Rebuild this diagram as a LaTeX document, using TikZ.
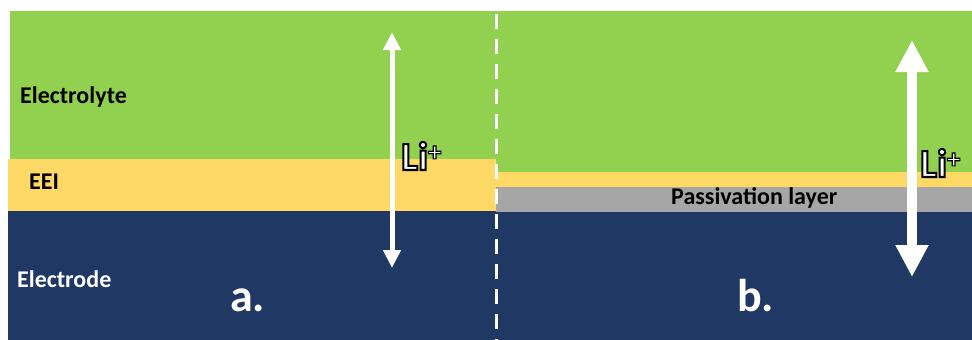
\documentclass[tikz,border=0pt]{standalone}
\usepackage{fontspec}
\setmainfont{Carlito}
\usetikzlibrary{arrows.meta}
\definecolor{lyte}{HTML}{92D050}
\definecolor{eeicol}{HTML}{FFD966}
\definecolor{trode}{HTML}{203864}
\definecolor{passcol}{HTML}{A6A6A6}
\newcommand{\litext}{\special{pdf:code 2 Tr 2 w 0 G}Li\raisebox{9pt}{\fontsize{27}{27}\selectfont\special{pdf:code 2 Tr 1.1 w 0 G}+}\special{pdf:code 0 Tr 1 G}}
\begin{document}
\begin{tikzpicture}[x=1pt,y=-1pt,
  lbl/.style={inner sep=0pt, anchor=base west, font=\fontsize{24}{24}\selectfont\bfseries},
  biglbl/.style={inner sep=0pt, anchor=base west, text=white, font=\fontsize{46}{46}\selectfont\bfseries},
  lifront/.style={inner sep=0pt, anchor=base west, text=white, font=\fontsize{40}{40}\selectfont\bfseries},
  ionarrow/.style={white, line width=#1}]
\useasboundingbox (0,0) rectangle (972,340);
\fill[white] (0,0) rectangle (972,340);
% layers
\fill[trode] (8,211) rectangle (972,340);
\fill[lyte] (10,11) rectangle (496,159);
\fill[eeicol] (8,159) rectangle (496,211);
\fill[lyte] (496,11) rectangle (972,172);
\fill[eeicol] (496,172) rectangle (972,187);
\fill[passcol] (496,187) rectangle (972,212);
% divider
\coordinate (dtop) at (496.5,14);
\coordinate (dbot) at (496.5,340);
\draw[white, line width=3pt, dash pattern=on 15pt off 10pt] (dtop) -- (dbot);
% arrows
\coordinate (a1) at (392,32);
\coordinate (a2) at (392,268);
\draw[ionarrow=5pt, {Triangle[width=17pt,length=18pt]}-{Triangle[width=17pt,length=18pt]}] (a1) -- (a2);
\coordinate (b1) at (912,40);
\coordinate (b2) at (912,277);
\draw[ionarrow=10pt, {Triangle[width=31pt,length=32pt]}-{Triangle[width=31pt,length=32pt]}] (b1) -- (b2);
% labels
\node[lbl] (lyt) at (20,103) {Electrolyte};
\node[lbl] (eei) at (29,189) {EEI};
\node[lbl, text=white] (trd) at (17,287) {Electrode};
\node[lbl] (pas) at (671,204) {Passivation layer};
\node[biglbl] (la) at (230,311) {a.};
\node[biglbl] (lb) at (737,311) {b.};
% Li+ outlined
\node[lifront] (liAtext) at (401,170) {\litext};
\node[lifront] (liBtext) at (920,177) {\litext};
\end{tikzpicture}
\end{document}
